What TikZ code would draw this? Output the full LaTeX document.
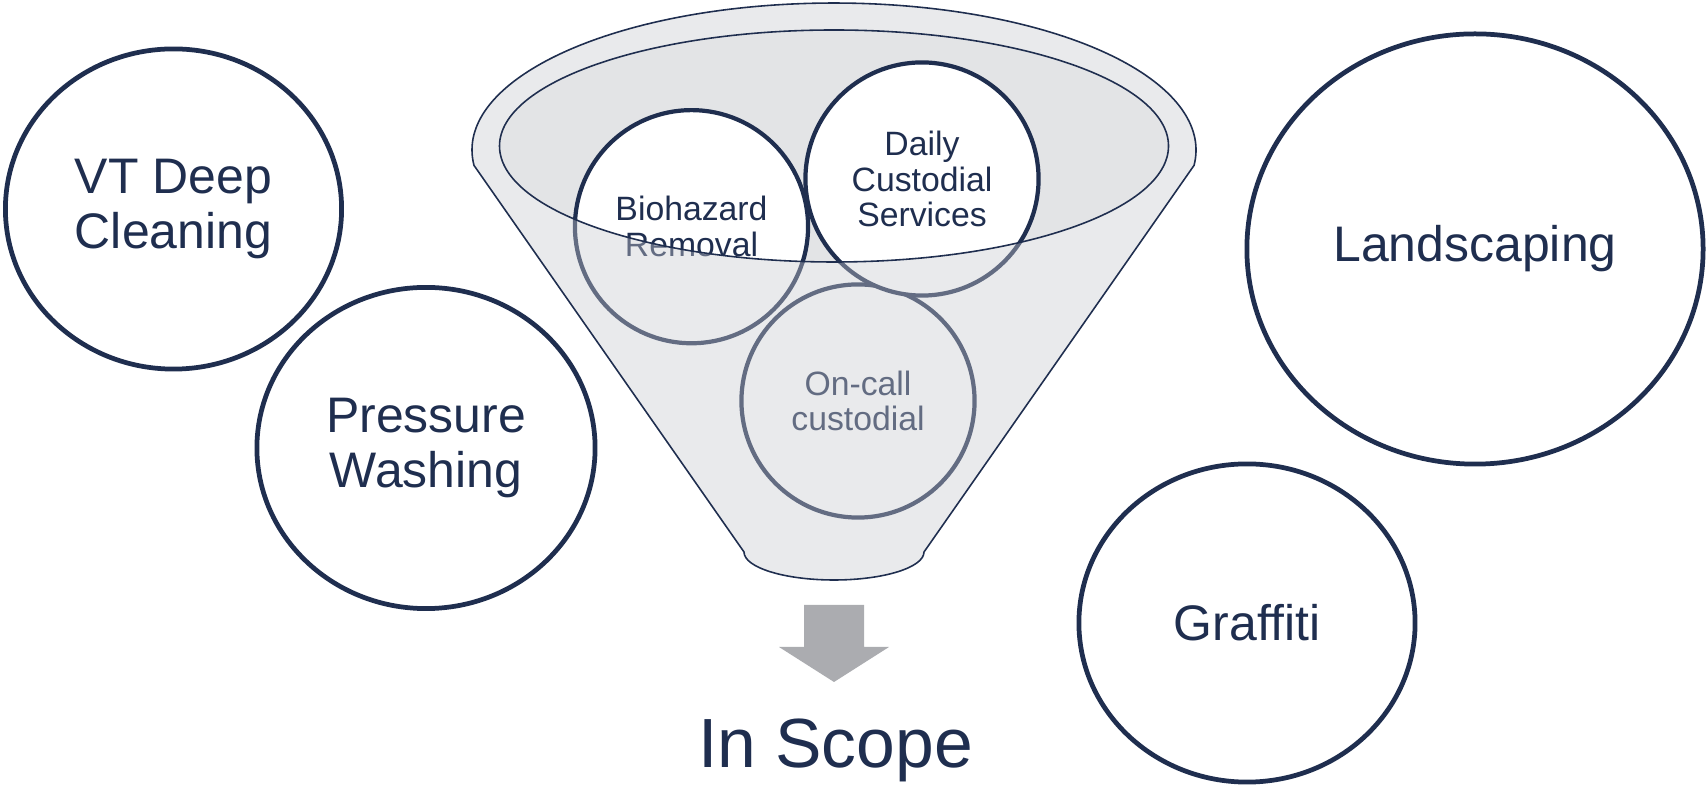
\documentclass[tikz,border=0pt]{standalone}
\usepackage{fontspec}
\setmainfont{Liberation Sans}
\usetikzlibrary{shapes.geometric}
\definecolor{navy}{RGB}{31,46,79}
\definecolor{funnelgray}{RGB}{201,203,208}
\definecolor{mouthgray}{RGB}{227,228,230}
\definecolor{arrowgray}{RGB}{171,172,176}
\tikzset{
  bigcircle/.style={ellipse, draw=navy, line width=1.35pt, fill=white, text=navy,
    inner sep=0pt, align=center, font=\fontsize{14.2}{15.4}\selectfont},
  smallcircle/.style={circle, draw=navy, line width=1.2pt, fill=white, text=navy,
    inner sep=0pt, minimum size=2.33cm, align=center, font=\fontsize{9.6}{10.1}\selectfont}
}
\def\drawFunnel{
\coordinate (F1) at (474,165.4);
\coordinate (F2) at (924,552);
\coordinate (M) at (834,146);
}
\begin{document}
\begin{tikzpicture}[x=0.01cm,y=-0.01cm]
\useasboundingbox (0,0) rectangle (1706,786);
\drawFunnel
% mouth of the funnel
\fill[mouthgray] (M) ellipse[x radius=334.5, y radius=116];
\node[smallcircle] (oncall) at (858,401) {On-call\\custodial};
\node[smallcircle] (biohazard) at (691.5,226.7) {Biohazard\\Removal};
\node[smallcircle] (daily) at (922,179) {Daily\\Custodial\\Services};
% funnel body over the circles
\path[fill=funnelgray, fill opacity=0.4, even odd rule, draw=navy, line width=0.45pt]
  (F1) arc[start angle=174, end angle=366, x radius=362, y radius=147]
  -- (F2) arc[start angle=0, end angle=180, x radius=90, y radius=28] -- cycle
  (M) ellipse[x radius=334.5, y radius=116];
% services out of scope
\node[bigcircle, minimum width=3.36cm, minimum height=3.2cm] (vt) at (173.5,209) {VT Deep\\Cleaning};
\node[bigcircle, minimum width=3.38cm, minimum height=3.21cm] (pressure) at (426,448) {Pressure\\Washing};
\node[bigcircle, minimum width=4.56cm, minimum height=4.3cm] (landscaping) at (1475,249) {Landscaping};
\node[bigcircle, minimum width=3.36cm, minimum height=3.18cm] (graffiti) at (1247,623) {Graffiti};
% arrow and result
\fill[arrowgray] (804,605) -- (864,605) -- (864,647) -- (889,647) -- (834,682)
  -- (779,647) -- (804,647) -- cycle;
\node[text=navy, font=\fontsize{19.8}{20}\selectfont] (inscope) at (835.5,750.3) {In Scope};
\end{tikzpicture}
\end{document}
